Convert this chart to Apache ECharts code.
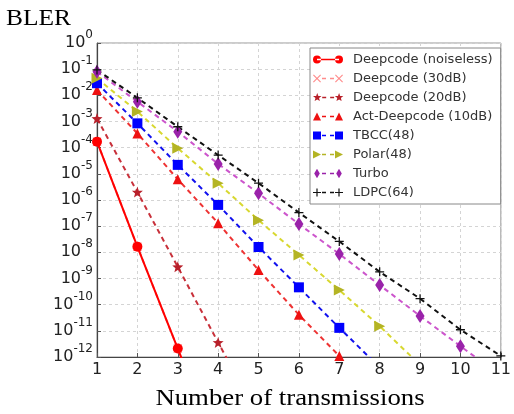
<!DOCTYPE html>
<html>
<head>
<meta charset="utf-8">
<script src="https://cdn.jsdelivr.net/npm/echarts@6/dist/echarts.min.js"></script>
<style>
html,body{margin:0;padding:0;background:#fff;}
#c{width:514px;height:414px;}
</style>
</head>
<body>
<div id="c"></div>
<script>
// ---- data ----
const xTicks = [1,2,3,4,5,6,7,8,9,10,11];
const yExponents = [0,-1,-2,-3,-4,-5,-6,-7,-8,-9,-10,-11,-12];
const seriesNames = ['Deepcode (noiseless)','Deepcode (30dB)','Deepcode (20dB)','Act-Deepcode (10dB)','TBCC(48)','Polar(48)','Turbo','LDPC(64)'];
const xNoiseless = [1,2,3,4];
const yNoiseless = [1.7e-4, 1.65e-8, 2.1e-12, 2.5e-16];
const x30dB = [1,2,3,4];
const y30dB = [1.7e-4, 1.65e-8, 2.1e-12, 2.5e-16];
const x20dB = [1,2,3,4,5];
const y20dB = [1.3e-3, 2e-6, 2.8e-9, 3.6e-12, 5e-15];
const xAct10 = [1,2,3,4,5,6,7,8];
const yAct10 = [1.6e-2, 3.5e-4, 6.2e-6, 1.3e-7, 2.1e-9, 4.1e-11, 1.1e-12, 2e-14];
const xTbcc = [1,2,3,4,5,6,7,8];
const yTbcc = [2.9e-2, 8.5e-4, 2.2e-5, 6.5e-7, 1.6e-8, 4.6e-10, 1.3e-11, 4e-13];
const xPolar = [1,2,3,4,5,6,7,8,9];
const yPolar = [4.5e-2, 2.4e-3, 9.5e-5, 4.4e-6, 1.7e-7, 7.9e-9, 3.6e-10, 1.5e-11, 5e-13];
const xTurbo = [1,2,3,4,5,6,7,8,9,10,11];
const yTurbo = [8e-2, 5.7e-3, 4.1e-4, 2.4e-5, 1.8e-6, 1.2e-7, 8.7e-9, 5.6e-10, 3.7e-11, 2.6e-12, 1.9e-13];
const xLdpc = [1,2,3,4,5,6,7,8,9,10,11];
const yLdpc = [9.3e-2, 8e-3, 6.3e-4, 5.2e-5, 4.4e-6, 3.3e-7, 2.6e-8, 1.8e-9, 1.7e-10, 1.1e-11, 1.1e-12];

const yTickValues = yExponents.map(e => Math.pow(10, e));
function pairs(xs, ys){ return xs.map((x,i)=>[x, ys[i]]); }
function expOf(v){ return Math.round(Math.log10(v)); }

// ---- marker shape builders (style only) ----
function poly(pts){ return 'M' + pts.map(p=>p[0].toFixed(3)+','+p[1].toFixed(3)).join('L') + 'Z'; }
function circleP(cx,cy,r){ return 'M'+(cx-r)+','+cy+'a'+r+','+r+' 0 1,0 '+(2*r)+',0a'+r+','+r+' 0 1,0 '+(-2*r)+',0Z'; }
function xShape(cx,cy,h,t){ return poly([[cx-h,cy-h+t],[cx-h+t,cy-h],[cx,cy-t],[cx+h-t,cy-h],[cx+h,cy-h+t],[cx+t,cy],[cx+h,cy+h-t],[cx+h-t,cy+h],[cx,cy+t],[cx-h+t,cy+h],[cx-h,cy+h-t],[cx-t,cy]]); }
function starShape(cx,cy,R,r){ const p=[]; for(let i=0;i<10;i++){ const a=(-90+36*i)*Math.PI/180; const rr=i%2===0?R:r; p.push([cx+rr*Math.cos(a), cy+rr*Math.sin(a)]); } return poly(p); }
function triUp(cx,cy,h){ return poly([[cx-h,cy+h],[cx,cy-h],[cx+h,cy+h]]); }
function triRight(cx,cy,h){ return poly([[cx-h,cy-h],[cx+h,cy],[cx-h,cy+h]]); }
function square(cx,cy,h){ return poly([[cx-h,cy-h],[cx+h,cy-h],[cx+h,cy+h],[cx-h,cy+h]]); }
function diamond(cx,cy,w,h){ return poly([[cx,cy-h],[cx+w,cy],[cx,cy+h],[cx-w,cy]]); }
function plusShape(cx,cy,h,t){ return poly([[cx-t,cy-h],[cx+t,cy-h],[cx+t,cy-t],[cx+h,cy-t],[cx+h,cy+t],[cx+t,cy+t],[cx+t,cy+h],[cx-t,cy+h],[cx-t,cy+t],[cx-h,cy+t],[cx-h,cy-t],[cx-t,cy-t]]); }
const frame = 'M0,0h0.01v0.01h-0.01zM34.99,9.99h0.01v0.01h-0.01z';
const solidBar = 'M4,4.3h22v1.4h-22z';
const dashBar = 'M9,4.3h4v1.4h-4zM17,4.3h4v1.4h-4z';
function twoMarkers(fn){ return fn(4) + fn(26); }

const legendIcons = [
  'path://' + frame + solidBar + twoMarkers(c=>circleP(c,5,4)),
  'path://' + frame + dashBar + twoMarkers(c=>xShape(c,5,4,0.8)),
  'path://' + frame + dashBar + twoMarkers(c=>starShape(c,5,4.5,1.9)),
  'path://' + frame + dashBar + twoMarkers(c=>triUp(c,5,4)),
  'path://' + frame + dashBar + twoMarkers(c=>square(c,5,4)),
  'path://' + frame + dashBar + twoMarkers(c=>triRight(c,5,4)),
  'path://' + frame + dashBar + twoMarkers(c=>diamond(c,5,2.8,4.8)),
  'path://' + frame + dashBar + twoMarkers(c=>plusShape(c,5,4,0.6))
];

const symX = 'path://' + xShape(5,5,5,1);
const symStar = 'path://' + starShape(5,5,5,2.1);
const symPlus = 'path://' + plusShape(5,5,5,0.7);

function mkSeries(name, data, color, lineColor, symbol, size, dashed, extra){
  return Object.assign({
    name: name, type: 'line', data: data,
    symbol: symbol, symbolSize: size, showAllSymbol: true,
    itemStyle: {color: color},
    lineStyle: {color: lineColor, width: 2, type: dashed ? [5,4] : 'solid'},
    clip: true, z: 2
  }, extra || {});
}

const series = [
  mkSeries(seriesNames[1], pairs(x30dB, y30dB), '#ff8c8c', '#ff8c8c', symX, 9, true, {z:1}),
  mkSeries(seriesNames[0], pairs(xNoiseless, yNoiseless), '#ff0000', '#ff0000', 'circle', 10, false),
  mkSeries(seriesNames[2], pairs(x20dB, y20dB), '#b8202a', '#c8303a', symStar, 11, true),
  mkSeries(seriesNames[3], pairs(xAct10, yAct10), '#ee1111', '#ee3333', 'triangle', 10, true),
  mkSeries(seriesNames[4], pairs(xTbcc, yTbcc), '#0000ff', '#1111ee', 'rect', 10, true),
  mkSeries(seriesNames[5], pairs(xPolar, yPolar), '#b4b424', '#d8d830', 'triangle', 11, true, {symbolRotate: -90}),
  mkSeries(seriesNames[6], pairs(xTurbo, yTurbo), '#9a22aa', '#cc55cc', 'diamond', [9,14], true),
  mkSeries(seriesNames[7], pairs(xLdpc, yLdpc), '#111111', '#111111', symPlus, 9, true)
];

const yMin = yTickValues[yTickValues.length-1];
const yMax = yTickValues[0];
const gridSplit = {show: true, lineStyle: {color: '#d4d4d4', type: [3,3], width: 1}};

const chart = echarts.init(document.getElementById('c'), null, {renderer: 'canvas'});
chart.setOption({
  animation: false,
  backgroundColor: '#fff',
  grid: {left: 97, right: 10, top: 43, bottom: 57, containLabel: false,
    show: true, borderColor: '#999', borderWidth: 1},
  xAxis: {
    type: 'value', min: xTicks[0], max: xTicks[xTicks.length-1], interval: 1,
    axisLine: {show: true, onZero: false, lineStyle: {color: '#444', width: 1.2}},
    axisTick: {show: true, inside: true, length: 4, lineStyle: {color: '#555'}},
    axisLabel: {fontFamily: 'DejaVu Sans', fontSize: 16, color: '#222', margin: 5,
      formatter: v => String(v)},
    splitLine: gridSplit
  },
  yAxis: [{
    type: 'log', logBase: 10, min: yMin, max: yMax, interval: 1,
    axisLine: {show: true, lineStyle: {color: '#444', width: 1.2}},
    axisTick: {show: true, inside: true, length: 4, lineStyle: {color: '#555'}},
    axisLabel: {
      margin: 4, showMinLabel: true, showMaxLabel: true,
      formatter: function(v){ return '{b|10}{g|' + expOf(v) + '}'; },
      rich: {
        b: {fontFamily: 'DejaVu Sans', fontSize: 16, color: '#222', lineHeight: 16},
        g: {fontFamily: 'DejaVu Sans', fontSize: 12, color: 'rgba(0,0,0,0)', lineHeight: 12}
      }
    },
    splitLine: gridSplit
  }, {
    type: 'log', logBase: 10, min: yMin, max: yMax, interval: 1, position: 'left',
    axisLine: {show: false}, axisTick: {show: false},
    splitLine: gridSplit,
    axisLabel: {
      margin: 4, showMinLabel: true, showMaxLabel: true, verticalAlign: 'bottom',
      fontFamily: 'DejaVu Sans', fontSize: 12, color: '#222', lineHeight: 12, padding: [0,0,2,0],
      formatter: function(v){ return String(expOf(v)); }
    }
  }],
  legend: {
    left: 310, top: 48, orient: 'vertical',
    itemWidth: 35, itemHeight: 10, itemGap: 6,
    padding: [5, 8, 5, 3],
    backgroundColor: '#fff', borderColor: '#888', borderWidth: 1, borderRadius: 0,
    textStyle: {fontFamily: 'DejaVu Sans', fontSize: 13, color: '#333'},
    data: seriesNames.map((n,i)=>({name: n, icon: legendIcons[i]})),
    selectedMode: false
  },
  graphic: [
    {type: 'text', x: 6, y: 19.5, scaleX: 1.13,
      style: {text: 'BLER', font: '22.5px "Liberation Serif"', fill: '#000', textAlign: 'left', textVerticalAlign: 'middle'}},
    {type: 'text', x: 290, y: 399.5, scaleX: 1.19,
      style: {text: 'Number of transmissions', font: '22.5px "Liberation Serif"', fill: '#000', textAlign: 'center', textVerticalAlign: 'middle'}}
  ],
  series: series
});
</script>
</body>
</html>
